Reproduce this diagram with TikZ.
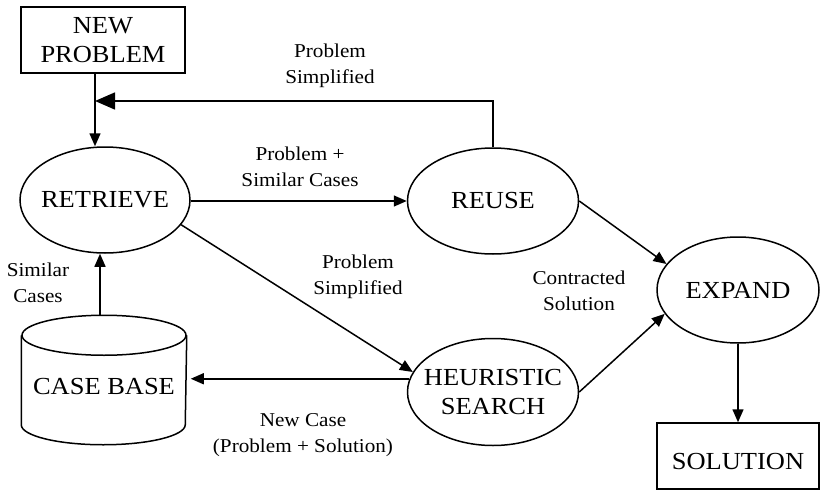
\documentclass[tikz,border=0pt]{standalone}
\usepackage{fontspec}
\setmainfont{Liberation Serif}[FakeStretch=1.08]
\usetikzlibrary{arrows.meta,shapes.geometric}
% zero-width box: keeps the ellipse size set by its minimum dimensions
\newcommand\zw[1]{\makebox[0pt]{#1}}
\begin{document}
\begin{tikzpicture}[x=1pt,y=-1pt,
  line width=1.5pt,
  big/.style={font=\fontsize{24.5}{29}\selectfont, align=center},
  lbl/.style={font=\fontsize{19.6}{26}\selectfont, align=center, inner sep=0pt},
  box/.style={draw, rectangle, big, inner sep=0pt},
  proc/.style={draw, ellipse, big, inner sep=0pt},
  flow/.style={-{Triangle[length=13pt,width=11pt]}},
  bigflow/.style={-{Triangle[length=20pt,width=17pt]}}]
\useasboundingbox (0,0) rectangle (820,490);

% terminal boxes
\node[box, minimum width=164pt, minimum height=66pt] (newprob) at (103,40) {NEW\\PROBLEM};
\node[box, minimum width=162pt, minimum height=66pt,
      label={[big,yshift=-6pt]center:SOLUTION}] (solution) at (738,456) {};

% process ellipses
\node[proc, minimum width=170pt, minimum height=106pt] (retrieve) at (105,200) {\zw{RETRIEVE}};
\node[proc, minimum width=171pt, minimum height=106pt] (reuse) at (493,201) {\zw{REUSE}};
\node[proc, minimum width=171pt, minimum height=107pt] (heur) at (493,392) {\zw{HEURISTIC}\\\zw{SEARCH}};
\node[proc, minimum width=162pt, minimum height=106pt] (expand) at (738,290) {\zw{EXPAND}};

% case base cylinder
\node[minimum width=164pt, minimum height=128pt, inner sep=0pt,
      label={[big,yshift=-7pt]center:CASE BASE}] (casebase) at (104,380) {};
\draw ([yshift=-20pt]casebase.north west) -- ([yshift=20pt]casebase.south west)
  arc[start angle=180, end angle=360, x radius=82pt, y radius=20pt]
  -- ([yshift=-20pt]casebase.north east);
\draw ([yshift=-20pt]casebase.north) ellipse[x radius=82pt, y radius=20pt];

% feedback junction above RETRIEVE
\coordinate (join) at (95,101);

% connectors
\draw[flow] (newprob.south -| join) -- (retrieve.north -| join);
\draw[bigflow] (reuse.north) |- (join);
\draw[flow] (retrieve.east |- reuse.west) -- (reuse.west);
\draw[flow] (retrieve.-18) -- (heur.166);
\draw[flow, shorten >=4pt] (heur.171) -- (heur.171 -| casebase.east);
\draw[flow] ([xshift=-4pt]casebase.north) -- ([xshift=-4pt]casebase.north |- retrieve.south);
\draw[flow] (reuse.east) -- (expand.160);
\draw[flow] (heur.east) -- (expand.198);
\draw[flow] (expand.south) -- (solution.north);

% connector labels
\node[lbl] (lsimp1) at (330,66) {Problem\\Simplified};
\node[lbl] (lsim) at (300,167) {Problem +\\Similar Cases};
\node[lbl] (lsimp2) at (358,277) {Problem\\Simplified};
\node[lbl] (lcon) at (579,291) {Contracted\\Solution};
\node[lbl] (lcases) at (38,283) {Similar\\Cases};
\node[lbl] (lnew) at (303,435) {New Case\\(Problem + Solution)};
\end{tikzpicture}
\end{document}
